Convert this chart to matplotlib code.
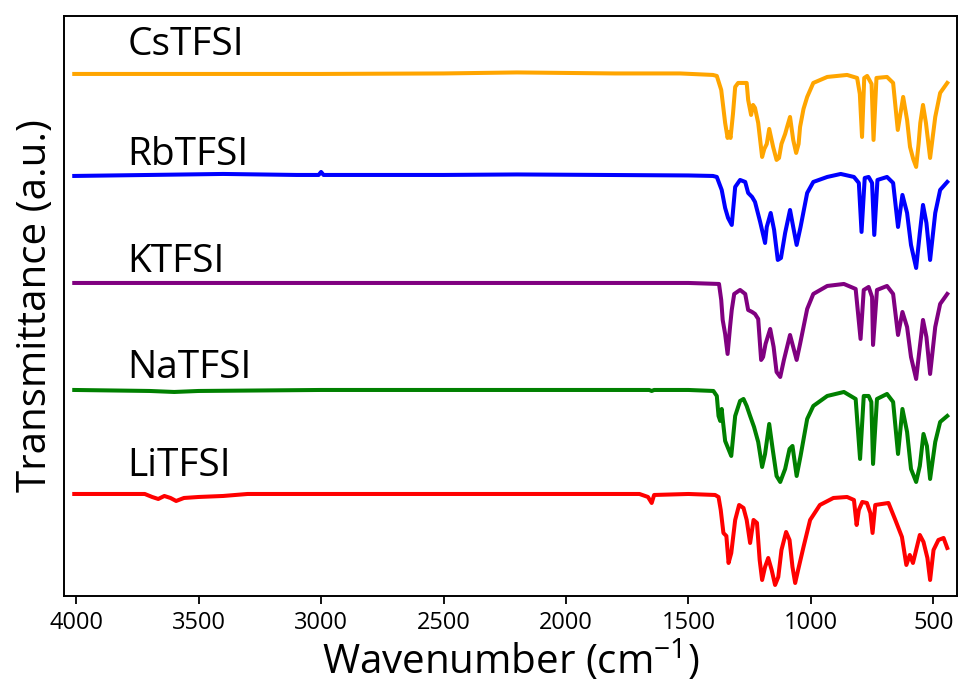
import matplotlib
matplotlib.use("Agg")
import matplotlib.pyplot as plt

plt.rcParams['font.family'] = ['Open Sans', 'DejaVu Sans']
plt.rcParams['mathtext.fontset'] = 'custom'
plt.rcParams['mathtext.rm'] = 'Open Sans'

# FTIR spectra: wavenumber (cm-1) and drop below baseline (a.u.)
names = ["CsTFSI", "RbTFSI", "KTFSI", "NaTFSI", "LiTFSI"]
colors = ["orange", "blue", "purple", "green", "red"]
offsets = [522, 420, 313, 206, 102]
label_y = [551, 441, 334, 228, 130]

cs_wn = [4008, 3500, 3000, 2500, 2200, 2000, 1800, 1534, 1400, 1384, 1366, 1350, 1340,
         1335, 1328, 1318, 1309, 1297, 1262, 1256, 1244, 1236, 1228, 1215, 1199, 1190,
         1180, 1170, 1154, 1140, 1130, 1120, 1105, 1097, 1085, 1072, 1060, 1050, 1044,
         1030, 1015, 990, 933, 852, 811, 800, 791, 782, 770, 752, 744, 732, 689, 664,
         645, 623, 607, 595, 582, 570, 560, 553, 542, 530, 513, 492, 472, 443]
cs_d = [0, 0, 0, -0.5, -1.5, -1, -0.5, -0.5, 1, 2, 16, 49, 64,
        58, 64, 40, 13, 9, 9, 26, 41, 31, 34, 49, 83, 75,
        70, 55, 73, 86, 84, 70, 60, 53, 43, 66, 79, 70, 53,
        35, 23, 9, 3, 1, 4, 20, 63, 4, 2, 10, 66, 4, 3, 9,
        56, 23, 46, 73, 85, 93, 70, 49, 31, 49, 84, 43, 19, 9]

rb_wn = [4008, 3700, 3400, 3100, 3010, 3000, 2990, 2500, 2200, 1500, 1400, 1384, 1364,
         1350, 1338, 1323, 1309, 1289, 1268, 1256, 1240, 1228, 1207, 1187, 1180, 1164,
         1150, 1135, 1122, 1105, 1085, 1072, 1058, 1042, 1015, 990, 933, 878, 824, 804,
         793, 780, 764, 750, 741, 728, 689, 664, 644, 626, 607, 591, 570, 555, 542, 528,
         513, 492, 472, 443]
rb_d = [0, -1, -2, -1, -1, -4, -1, -1, -1.5, -0.5, 0, 1, 14,
        32, 42, 49, 11, 4, 6, 17, 21, 26, 46, 67, 51, 37,
        54, 84, 82, 57, 34, 51, 69, 51, 17, 6, 1, -2, 1, 7,
        56, 2, 1, 7, 59, 4, 1, 7, 51, 19, 37, 69, 92, 57, 29, 47,
        84, 37, 14, 6]

k_wn = [4008, 3500, 3000, 2500, 2000, 1500, 1375, 1366, 1360, 1350, 1340, 1330, 1323,
        1313, 1289, 1268, 1256, 1240, 1228, 1215, 1203, 1195, 1185, 1166, 1152, 1140,
        1125, 1110, 1097, 1085, 1072, 1058, 1044, 1015, 990, 933, 865, 817, 797, 784,
        764, 750, 746, 730, 689, 664, 644, 626, 607, 591, 570, 555, 542, 528, 513, 492,
        472, 443]
k_d = [0, 0, 0, 0, 0, 0, 1, 17, 37, 51, 71, 44, 27,
       11, 7, 11, 27, 29, 31, 36, 77, 74, 61, 46, 64, 89,
       94, 77, 64, 52, 64, 77, 61, 26, 11, 3, 1, 6, 56, 7,
       4, 14, 62, 7, 3, 11, 52, 29, 44, 74, 96, 64, 37, 54, 91, 44,
       21, 11]

na_wn = [4008, 3700, 3600, 3500, 3000, 2500, 2000, 1660, 1650, 1640, 1500, 1398, 1384,
         1377, 1370, 1364, 1360, 1350, 1340, 1325, 1309, 1289, 1275, 1262, 1248, 1232,
         1215, 1199, 1187, 1170, 1156, 1140, 1125, 1105, 1087, 1075, 1058, 1042, 1015,
         990, 933, 865, 817, 799, 784, 764, 753, 746, 730, 689, 664, 644, 626, 607, 591,
         570, 555, 540, 526, 513, 492, 472, 443]
na_d = [0, 1, 2, 1, 0, 0, 0, 0, 1, 0, 0, 1, 6,
        26, 31, 19, 29, 51, 57, 66, 26, 11, 9, 16, 26, 37,
        52, 77, 64, 34, 59, 86, 92, 79, 59, 56, 86, 66, 29,
        16, 6, 2, 9, 69, 6, 6, 12, 74, 9, 4, 12, 64, 19, 42, 79,
        92, 76, 44, 56, 89, 52, 32, 26]

li_wn = [4008, 3720, 3690, 3665, 3640, 3615, 3592, 3560, 3500, 3400, 3300, 2500, 1700,
         1665, 1650, 1640, 1500, 1391, 1377, 1368, 1357, 1345, 1336, 1325, 1309, 1293,
         1275, 1262, 1248, 1234, 1220, 1209, 1199, 1187, 1174, 1160, 1146, 1133, 1120,
         1101, 1087, 1075, 1064, 1052, 1030, 1003, 963, 908, 852, 824, 813, 804, 790,
         771, 757, 748, 737, 683, 655, 628, 610, 596, 583, 570, 555, 540, 524, 513, 499,
         479, 458, 443]
li_d = [0, 0, 3, 5, 2, 4, 7, 4, 3, 2, 0, 0, 0,
        3, 9, 1, 0, 1, 3, 16, 39, 42, 69, 59, 26, 11,
        14, 26, 49, 26, 29, 66, 86, 73, 64, 76, 91, 83, 56,
        38, 46, 73, 89, 76, 53, 26, 11, 4, 3, 6, 31, 16, 8,
        9, 19, 39, 11, 9, 26, 43, 71, 61, 69, 56, 41, 48, 64, 86, 56,
        46, 44, 54]

wavenumbers = [cs_wn, rb_wn, k_wn, na_wn, li_wn]
drops = [cs_d, rb_d, k_d, na_d, li_d]

fig = plt.figure(figsize=(9.59, 6.93), dpi=100)
ax = fig.add_axes([0.0667, 0.140, 0.931, 0.837])

for name, col, off, ly, wn, d in zip(names, colors, offsets, label_y, wavenumbers, drops):
    ax.plot(wn, [off - v for v in d], color=col, lw=2.9, solid_joinstyle='round')
    ax.text(3792, ly, name, fontsize=28, va='center', ha='left')

ax.set_xlim(4050, 404)
ax.set_ylim(0, 580)
ax.set_xticks([4000, 3500, 3000, 2500, 2000, 1500, 1000, 500])
ax.set_yticks([])
ax.tick_params(axis='x', direction='out', length=6, width=1.3, labelsize=17, pad=5)
for s in ax.spines.values():
    s.set_linewidth(1.4)

ax.set_xlabel(r'Wavenumber (cm$^{\mathregular{-1}}$)', fontsize=29, labelpad=2)
ax.set_ylabel('Transmittance (a.u.)', fontsize=29, labelpad=6)

fig.savefig("out.png", dpi=100)
